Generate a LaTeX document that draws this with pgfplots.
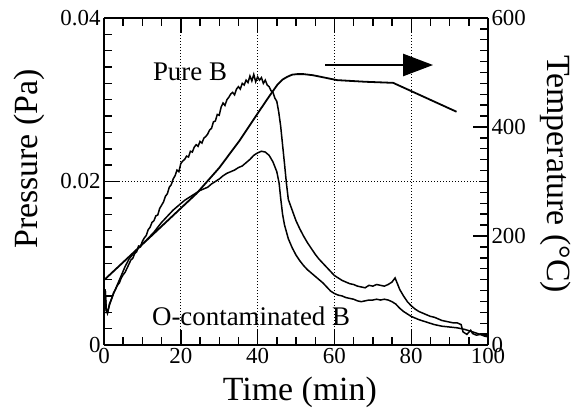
\documentclass[border=0pt]{standalone}
\usepackage{fontspec}
\setmainfont{Liberation Serif}
\usepackage{pgfplots}
\pgfplotsset{compat=1.18}
\usetikzlibrary{arrows.meta}
\pgfplotsset{
  common/.style={
    scale only axis, width=384bp, height=327bp,
    xmin=0, xmax=100,
    tick align=inside,
    major tick length=15bp, minor tick length=8bp,
    every tick/.append style={line width=1.4bp, black},
    axis line style={line width=1.8bp},
    /pgf/number format/assume math mode=true,
    tick label style={font=\fontsize{23}{23}\selectfont},
    label style={font=\fontsize{34}{34}\selectfont},
  }
}
\begin{document}
\begin{tikzpicture}
% pressure axis (left ticks, data)
\begin{axis}[common,
  ymin=0, ymax=0.04,
  axis y line*=left, axis x line=none,
  scaled y ticks=false,
  ytick={0,0.02,0.04}, yticklabels={0,0.02,0.04},
  minor ytick={0.002,0.004,0.006,0.008,0.010,0.012,0.014,0.016,0.018,0.022,0.024,0.026,0.028,0.030,0.032,0.034,0.036,0.038},
  ylabel={Pressure (Pa)},
  ylabel style={at={(axis description cs:-0.195,0.569)}, anchor=center},
]
\coordinate (SW) at (rel axis cs:0,0);
\coordinate (NE) at (rel axis cs:1,1);
% dotted grid lines
\pgfplotsinvokeforeach{20,40,60,80}{
  \draw[dash pattern=on 1bp off 2bp, line width=0.8bp] (axis cs:#1,0) -- (axis cs:#1,0.04);
}
\draw[dash pattern=on 1bp off 2bp, line width=0.8bp] (axis cs:0,0.02) -- (axis cs:100,0.02);
% time-axis ticks, bottom and top
\pgfplotsinvokeforeach{20,40,60,80}{
  \draw[line width=1.4bp] (axis cs:#1,0) -- ++(0,15bp);
  \draw[line width=1.4bp] (axis cs:#1,0.04) -- ++(0,-15bp);
}
\pgfplotsinvokeforeach{5,10,15,25,30,35,45,50,55,65,70,75,85,90,95}{
  \draw[line width=1.4bp] (axis cs:#1,0) -- ++(0,8bp);
  \draw[line width=1.4bp] (axis cs:#1,0.04) -- ++(0,-8bp);
}
% Pure B
\addplot[black, line width=1.5bp] coordinates {
(0,0.0030) (0.3,0.0068) (0.6,0.0043) (0.9,0.0039) (1.4,0.0050) (2.0,0.0057)
(2.5,0.0064) (3.0,0.0068) (3.5,0.0073) (4.0,0.0076) (4.5,0.0082) (5.0,0.0086)
(5.5,0.0089) (6.0,0.0094) (6.5,0.0099) (7.0,0.0104) (7.5,0.0106) (8.0,0.0112)
(8.5,0.0114) (9.0,0.0121) (9.5,0.0120) (10.0,0.0127) (10.5,0.0131) (11.0,0.0134)
(11.5,0.0141) (12.0,0.0144) (12.5,0.0150) (13.0,0.0152) (13.5,0.0158) (14.0,0.0159)
(14.5,0.0167) (15.0,0.0171) (15.5,0.0175) (16.0,0.0182) (16.5,0.0185) (17.0,0.0193)
(17.5,0.0196) (18.0,0.0203) (18.5,0.0207) (19.0,0.0214) (19.5,0.0212) (20.0,0.0222)
(20.5,0.0225) (21.0,0.0227) (21.5,0.0231) (22.0,0.0230) (22.5,0.0237) (23.0,0.0236)
(23.5,0.0242) (24.0,0.0245) (24.5,0.0243) (25.0,0.0249) (25.5,0.0247) (26.0,0.0253)
(26.5,0.0255) (27.0,0.0258) (27.5,0.0263) (28.0,0.0265) (28.5,0.0273) (29.0,0.0274)
(29.5,0.0282) (30.0,0.0281) (30.5,0.0291) (31.0,0.0296) (31.5,0.0293) (32.0,0.0300)
(32.5,0.0303) (33.0,0.0307) (33.5,0.0309) (34.0,0.0306) (34.5,0.0313) (35.0,0.0316)
(35.5,0.0313) (36.0,0.0320) (36.5,0.0318) (37.0,0.0324) (37.5,0.0321) (38.0,0.0329)
(38.5,0.0323) (39.0,0.0331) (39.5,0.0322) (40.0,0.0328) (40.5,0.0324) (41.0,0.0327)
(41.5,0.0320) (42.0,0.0324) (42.5,0.0318) (43.0,0.0316) (43.5,0.0311) (44.0,0.0309)
(44.5,0.0302) (45.0,0.0298) (45.5,0.0285) (46.0,0.0268) (46.5,0.0245) (47.0,0.0222)
(47.5,0.0198) (48.0,0.0178) (49,0.0165) (50,0.0152) (51,0.0142) (52,0.0133)
(53,0.0125) (54,0.0118) (55,0.0111) (56,0.0105) (57,0.0100) (58,0.0095)
(59,0.0090) (60,0.0085) (61,0.0082) (62,0.0079) (63,0.0077) (64,0.0075)
(65,0.0074) (66,0.0072) (67,0.0071) (68,0.0070) (69,0.0073) (70,0.0072)
(71,0.0074) (72,0.0073) (73,0.0072) (74,0.0074) (75,0.0077) (75.8,0.0082)
(76.5,0.0074) (77,0.0068) (78,0.0060) (79,0.0053) (80,0.0048) (81,0.0044)
(82,0.0041) (83,0.0039) (84,0.0037) (85,0.0035) (86,0.0034) (87,0.0032)
(88,0.0030) (89,0.0029) (90,0.0028) (91,0.0027) (92,0.0027) (93,0.0025)
(93.5,0.0016) (94.5,0.0013) (95.5,0.0018) (96,0.0014) (97,0.0012) (98,0.0013)
(99,0.0011) (100,0.0010)
};
% O-contaminated B
\addplot[black, line width=1.5bp] coordinates {
(0,0.0030) (0.3,0.0068) (0.6,0.0043) (0.9,0.0039) (1.5,0.0050) (2.5,0.0063)
(3.5,0.0074) (4.5,0.0085) (5.5,0.0096) (6.5,0.0105) (7.5,0.0111) (8.5,0.0116)
(10,0.0124) (11,0.0128) (12,0.0133) (13,0.0138) (14,0.0144) (15,0.0150)
(16,0.0155) (17,0.0160) (18,0.0165) (19,0.0169) (20,0.0173) (21,0.0177)
(22,0.0180) (23,0.0183) (24,0.0186) (25,0.0189) (26,0.0191) (27,0.0193)
(28,0.0197) (29,0.0200) (30,0.0203) (31,0.0207) (32,0.0210) (33,0.0212)
(34,0.0214) (35,0.0217) (36,0.0219) (37,0.0223) (38,0.0227) (39,0.0232)
(40,0.0235) (41,0.0237) (42,0.0236) (43,0.0232) (44,0.0224) (45,0.0212)
(45.6,0.0198) (46,0.0180) (46.5,0.0160) (47,0.0147) (48,0.0130) (49,0.0119)
(50,0.0110) (51,0.0103) (52,0.0097) (53,0.0092) (54,0.0088) (55,0.0084)
(56,0.0080) (57,0.0076) (58,0.0071) (59,0.0066) (60,0.0063) (61,0.0061)
(62,0.0060) (63,0.0058) (64,0.0057) (65,0.0056) (66,0.0054) (67,0.0053)
(68,0.0054) (69,0.0055) (70,0.0055) (71,0.0056) (72,0.0055) (73,0.0056)
(74,0.0055) (75,0.0053) (76,0.0050) (77,0.0045) (78,0.0041) (79,0.0038)
(80,0.0035) (82,0.0031) (84,0.0028) (86,0.0025) (88,0.0023) (90,0.0022)
(92,0.0021) (94,0.0019) (96,0.0016) (98,0.0013) (100,0.0011)
};
\node[font=\fontsize{27}{27}\selectfont] at (axis cs:22.4,0.0334) {Pure B};
\node[font=\fontsize{27}{27}\selectfont] at (axis cs:38.3,0.00355) {O-contaminated B};
\draw[line width=2.5bp, -{Triangle[length=30bp,width=22bp]}] (axis cs:57.6,0.03425) -- (axis cs:85.7,0.03425);
\end{axis}
% bottom time axis
\begin{axis}[common,
  ymin=0, ymax=1,
  axis x line*=bottom, axis y line=none,
  scaled x ticks=false,
  xtick={0,20,40,60,80,100},
  minor xtick={5,10,15,25,30,35,45,50,55,65,70,75,85,90,95},
  xlabel={Time (min)},
  xlabel style={at={(axis description cs:0.51,-0.144)}, anchor=center},
]
\end{axis}
% top line with ticks
\begin{axis}[common,
  ymin=0, ymax=1,
  axis x line*=top, axis y line=none,
  xtick={0,20,40,60,80,100},
  minor xtick={5,10,15,25,30,35,45,50,55,65,70,75,85,90,95},
  xticklabels={},
]
\end{axis}
% right temperature axis
\begin{axis}[common,
  ymin=0, ymax=600,
  axis y line*=right, axis x line=none,
  ytick={0,200,400,600},
  minor ytick={20,40,60,80,100,120,140,160,180,220,240,260,280,300,320,340,360,380,420,440,460,480,500,520,540,560,580},
  ylabel={Temperature (°C)},
  ylabel style={at={(axis description cs:1.177,0.523)}, anchor=center, rotate=180},
]
\addplot[black, line width=1.8bp] coordinates {
(0,119) (12,198) (24.1,278) (30,325) (35.4,376) (40.6,431) (43,456) (45.1,477)
(46.5,487) (47.7,492) (49,496) (50.3,497) (52,497) (54.4,495) (60.7,486)
(68,483) (75.3,481) (91.8,428)
};
\end{axis}
\pgfresetboundingbox
\path[use as bounding box] ([shift={(-104bp,-69bp)}]SW) rectangle ([shift={(95bp,18bp)}]NE);
\end{tikzpicture}
\end{document}
